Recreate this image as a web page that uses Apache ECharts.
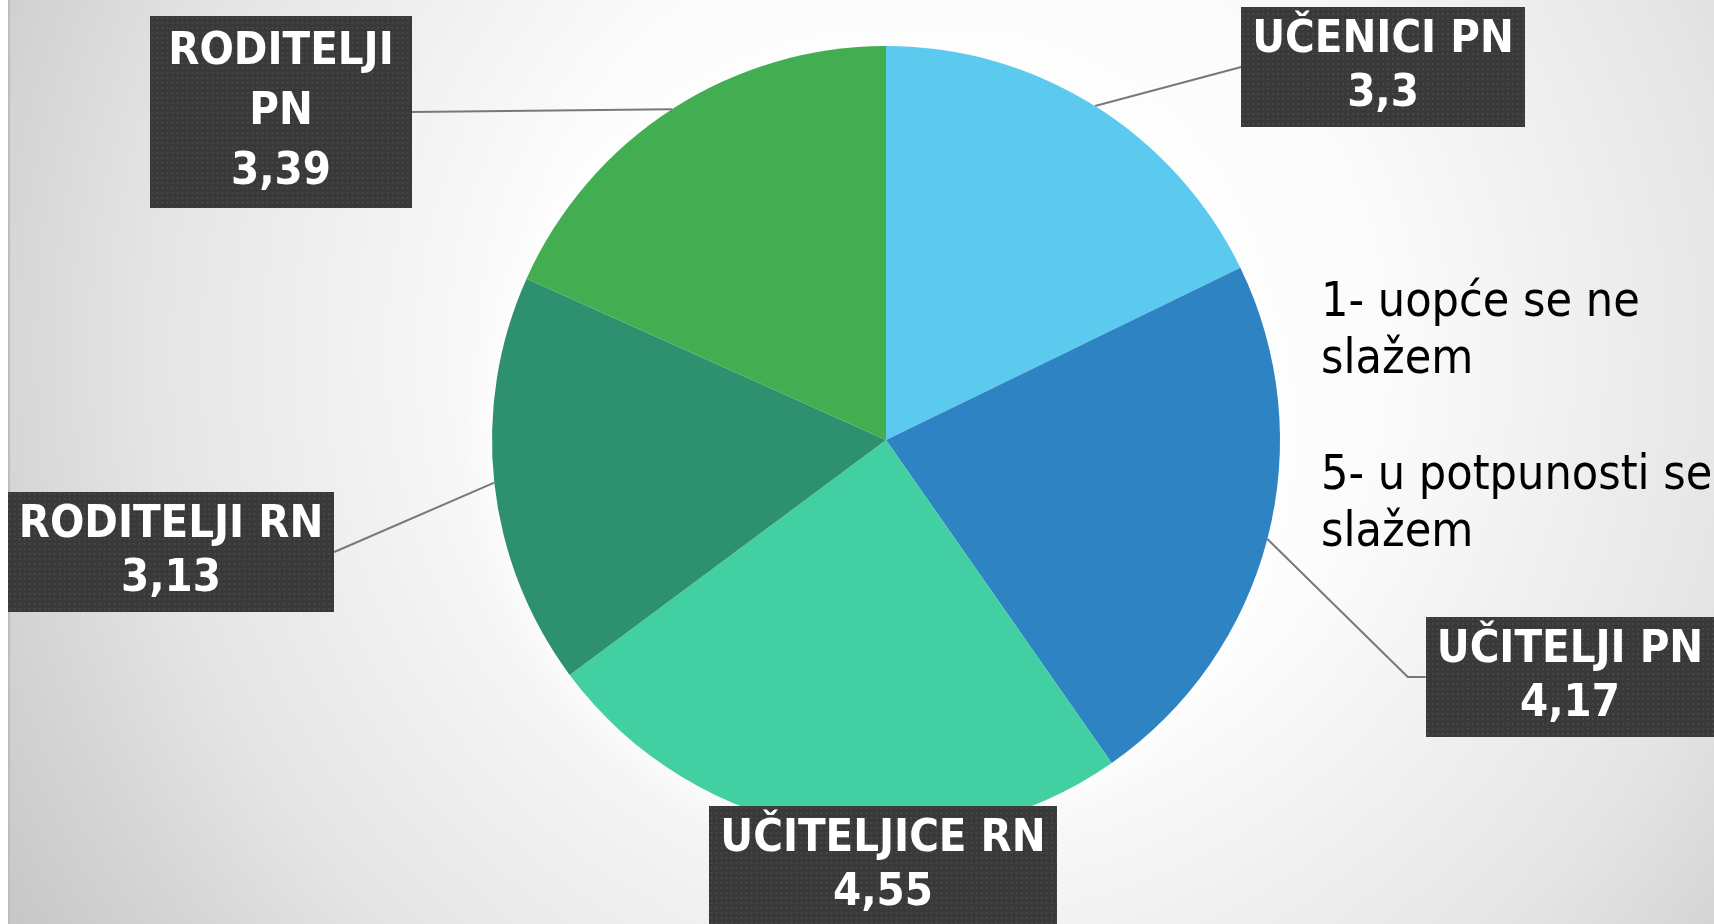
<!DOCTYPE html>
<html>
<head>
<meta charset="utf-8">
<script src="https://cdn.jsdelivr.net/npm/echarts@6/dist/echarts.min.js"></script>
<style>
  html, body { margin: 0; padding: 0; background: #fff; }
  #chart { width: 1714px; height: 924px; }
</style>
</head>
<body>
<div id="chart"></div>
<script>
// skupine ispitanika i prosjecne ocjene
const categories = ['UČENICI PN', 'UČITELJI PN', 'UČITELJICE RN', 'RODITELJI RN', 'RODITELJI PN'];
const values = [3.3, 4.17, 4.55, 3.13, 3.39];
const labelTexts = ['UČENICI PN', 'UČITELJI PN', 'UČITELJICE RN', 'RODITELJI RN', 'RODITELJI\nPN'];
const scaleNotes = ['1- uopće se ne\nslažem', '5- u potpunosti se\nslažem'];

const colors = ['#5ccaef', '#2e83c3', '#42cfa1', '#2d916f', '#43ae51'];
// sredista kutija s natpisima
const labelCenters = [[1383, 67], [1570, 677], [883, 866], [171, 552], [281, 112]];

const fontFamily = '"DejaVu Sans Condensed", "DejaVu Sans", sans-serif';
const fontSize = 45;
const padY = 6;

function fmt(v) {
  return String(v).replace('.', ',');
}

// tamna pozadina s tockicama, iste velicine kao kutija natpisa
function makeBox(lines, lineHeight, padX) {
  const c = document.createElement('canvas');
  let ctx = c.getContext('2d');
  ctx.font = 'bold ' + fontSize + 'px ' + fontFamily;
  let w = 0;
  lines.forEach(function (l) { w = Math.max(w, ctx.measureText(l).width); });
  c.width = Math.round(w + padX * 2);
  c.height = lines.length * lineHeight + padY * 2;
  ctx = c.getContext('2d');
  ctx.fillStyle = '#393939';
  ctx.fillRect(0, 0, c.width, c.height);
  ctx.fillStyle = '#474747';
  for (let y = 1; y < c.height; y += 5) {
    for (let x = 1; x < c.width; x += 5) {
      ctx.fillRect(x, y, 2, 2);
    }
  }
  return c;
}

const seriesData = categories.map(function (name, i) {
  const lines = (labelTexts[i] + '\n' + fmt(values[i])).split('\n');
  const lh = lines.length > 2 ? 60 : 54;
  const padX = lines.length > 2 ? 18 : 11;
  return {
    name: name,
    value: values[i],
    itemStyle: { color: colors[i] },
    label: {
      formatter: lines.join('\n'),
      lineHeight: lh,
      padding: [padY, padX],
      backgroundColor: { image: makeBox(lines, lh, padX) }
    },
    labelLine: { length2: i === 1 ? 18 : 0 }
  };
});

const chart = echarts.init(document.getElementById('chart'));

const option = {
  animation: false,
  backgroundColor: {
    type: 'radial', x: 0.554, y: 0.38, r: 1.2,
    colorStops: [
      { offset: 0, color: '#ffffff' },
      { offset: 0.38, color: '#fcfcfc' },
      { offset: 0.72, color: '#e5e5e5' },
      { offset: 0.86, color: '#d5d5d5' },
      { offset: 1, color: '#c6c6c6' }
    ]
  },
  graphic: [
    { type: 'rect', shape: { x: 0, y: 0, width: 8, height: 924 }, style: { fill: '#ffffff' }, silent: true },
    { type: 'rect', shape: { x: 8, y: 0, width: 2, height: 924 }, style: { fill: '#bdbdbd' }, silent: true },
    {
      type: 'text', left: 1321, top: 275, silent: true,
      style: { text: scaleNotes[0], fill: '#000', font: '48px ' + fontFamily, lineHeight: 57 }
    },
    {
      type: 'text', left: 1321, top: 448, silent: true,
      style: { text: scaleNotes[1], fill: '#000', font: '48px ' + fontFamily, lineHeight: 57 }
    }
  ],
  series: [
    {
      // bijeli sjaj oko kruga
      type: 'pie',
      silent: true,
      z: 1,
      center: [886, 440],
      radius: 394,
      data: [{ value: 1 }],
      label: { show: false },
      labelLine: { show: false },
      itemStyle: { color: '#ffffff', shadowBlur: 45, shadowColor: 'rgba(255,255,255,1)' }
    },
    {
      type: 'pie',
      z: 2,
      center: [886, 440],
      radius: 394,
      startAngle: 90,
      clockwise: true,
      data: seriesData,
      emphasis: { disabled: true },
      label: {
        show: true,
        position: 'outside',
        color: '#ffffff',
        fontFamily: fontFamily,
        fontSize: fontSize,
        fontWeight: 'bold',
        align: 'center',
        shadowBlur: 8,
        shadowColor: 'rgba(0,0,0,0.55)',
        shadowOffsetX: 4,
        shadowOffsetY: 4
      },
      labelLine: {
        show: true,
        length: 20,
        lineStyle: { color: '#787878', width: 2 }
      },
      labelLayout: function (p) {
        const c = labelCenters[p.dataIndex];
        return { x: c[0], y: c[1], align: 'center', verticalAlign: 'middle' };
      }
    }
  ]
};

chart.setOption(option);
</script>
</body>
</html>
